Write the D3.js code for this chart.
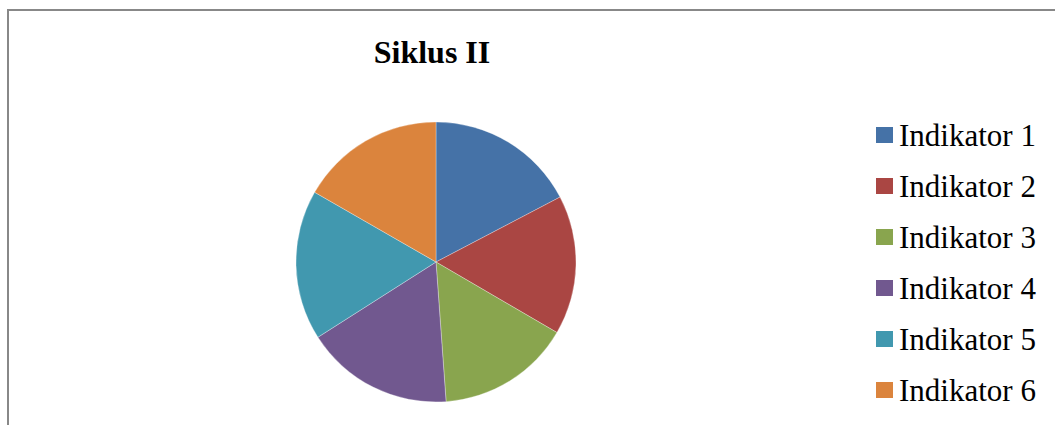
<!DOCTYPE html>
<html>
<head>
<meta charset="utf-8">
<script src="https://cdn.jsdelivr.net/npm/d3@7"></script>
<style>
  body { margin: 0; background: #fff; }
  svg { display: block; }
</style>
</head>
<body>
<svg id="chart" width="1055" height="425"></svg>
<script>
// data
categories = ["Indikator 1", "Indikator 2", "Indikator 3", "Indikator 4", "Indikator 5", "Indikator 6"]
values = [83, 77, 74, 82, 83, 80]
colors = ["#4572a7", "#aa4643", "#89a54e", "#71588f", "#4198af", "#db843d"]

svg = d3.select('#chart');

// chart border (bottom is cut off in the picture)
svg.append('path')
    .attr('d', 'M8,430 L8,10 L1060,10')
    .attr('fill', 'none')
    .attr('stroke', '#888')
    .attr('stroke-width', 2);

svg.append('text')
    .text('Siklus II')
    .attr('x', 432)
    .attr('y', 63)
    .attr('text-anchor', 'middle')
    .attr('font-family', '"Liberation Serif", "Times New Roman", serif')
    .attr('font-weight', 'bold')
    .attr('font-size', 32);

color = d3.scaleOrdinal().domain(categories).range(colors);

pie = d3.pie().sort(null).value(d => d.value);
arc = d3.arc().innerRadius(0).outerRadius(140);

table = categories.map((c, i) => ({ name: c, value: values[i] }));

g = svg.append('g').attr('transform', 'translate(436,262)');

g.selectAll('path')
    .data(pie(table))
    .enter()
    .append('path')
    .attr('d', arc)
    .attr('fill', d => color(d.data.name))
    .attr('stroke', '#fff')
    .attr('stroke-width', 0.5)
    .attr('stroke-opacity', 0.6);

// legend
legendY = d3.scalePoint().domain(categories).range([135, 390]);

legend = svg.append('g')
    .selectAll('g')
    .data(categories)
    .enter()
    .append('g')
    .attr('transform', d => 'translate(876,' + legendY(d) + ')');

legend.append('rect')
    .attr('x', 0)
    .attr('y', -8)
    .attr('width', 17)
    .attr('height', 16)
    .attr('fill', d => color(d));

legend.append('text')
    .text(d => d)
    .attr('x', 23)
    .attr('y', 11)
    .attr('font-family', '"Liberation Serif", "Times New Roman", serif')
    .attr('font-size', 31);
</script>
</body>
</html>
